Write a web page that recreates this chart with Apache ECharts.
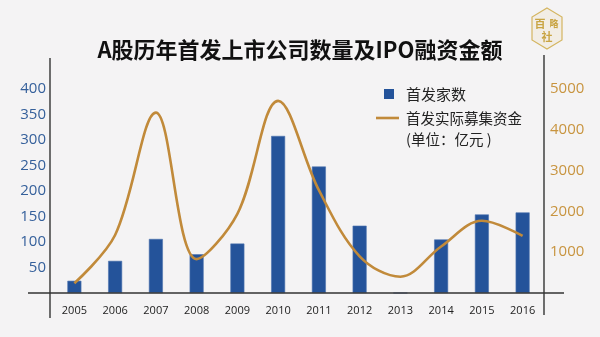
<!DOCTYPE html>
<html>
<head>
<meta charset="utf-8">
<script src="https://cdn.jsdelivr.net/npm/echarts@6/dist/echarts.min.js"></script>
<style>
  html, body { margin: 0; padding: 0; background: #f4f3f4; }
  #chart { width: 600px; height: 337px; }
</style>
</head>
<body>
<div id="chart"></div>
<script>
// 年份
const years = ['2005', '2006', '2007', '2008', '2009', '2010', '2011', '2012', '2013', '2014', '2015', '2016'];
// 首发家数
const ipoCount = [24, 63, 106, 76, 97, 308, 248, 132, 0, 105, 154, 158];
// 首发实际募集资金（亿元）
const ipoFunds = [240, 1420, 4420, 830, 1940, 4710, 2520, 900, 400, 1140, 1770, 1400];
// 坐标轴刻度
const leftTicks = [50, 100, 150, 200, 250, 300, 350, 400];
const rightTicks = [1000, 2000, 3000, 4000, 5000];

const title = 'A股历年首发上市公司数量及IPO融资金额';
const barName = '首发家数';
const lineName = '首发实际募集资金';
const unitText = '(单位：亿元 )';

const BLUE = '#24539a';
const GOLD = '#c18a3a';
const AXIS = '#333333';
const CJK = '"Noto Sans CJK SC", "Noto Sans", sans-serif';
const NUM = '"Open Sans", "Noto Sans", sans-serif';

const chart = echarts.init(document.getElementById('chart'), null, { renderer: 'canvas' });

const gridTop = 89, gridBottom = 44, gridLeft = 54, gridRight = 57;

chart.setOption({
  backgroundColor: '#f4f3f4',
  animation: false,
  title: {
    text: title,
    left: 'center',
    top: 34,
    textStyle: { fontFamily: CJK, fontSize: 22, fontWeight: 'bold', color: '#111' }
  },
  grid: { top: gridTop, bottom: gridBottom, left: gridLeft, right: gridRight },
  xAxis: {
    type: 'category',
    data: years,
    boundaryGap: true,
    axisLine: { show: false },
    axisTick: { show: false },
    axisLabel: { color: '#222', fontFamily: NUM, fontSize: 11, margin: 12, interval: 0 }
  },
  yAxis: [
    {
      type: 'value',
      min: 0,
      max: leftTicks[leftTicks.length - 1],
      interval: leftTicks[1] - leftTicks[0],
      splitLine: { show: false },
      axisLine: { show: false },
      axisTick: { show: false },
      axisLabel: {
        color: '#35609b', fontFamily: NUM, fontSize: 15, margin: 8,
        formatter: v => (leftTicks.indexOf(v) >= 0 ? String(v) : '')
      }
    },
    {
      type: 'value',
      min: 0,
      max: rightTicks[rightTicks.length - 1],
      interval: rightTicks[1] - rightTicks[0],
      splitLine: { show: false },
      axisLine: { show: false },
      axisTick: { show: false },
      axisLabel: {
        color: '#c8943f', fontFamily: NUM, fontSize: 15, margin: 7,
        formatter: v => (rightTicks.indexOf(v) >= 0 ? String(v) : '')
      }
    }
  ],
  series: [
    {
      name: barName,
      type: 'bar',
      yAxisIndex: 0,
      data: ipoCount,
      barWidth: 14,
      itemStyle: { color: BLUE, borderColor: '#4d74ae', borderWidth: 0.6 },
      z: 2
    },
    {
      name: lineName,
      type: 'line',
      yAxisIndex: 1,
      data: ipoFunds,
      smooth: 0.35,
      symbol: 'none',
      lineStyle: { color: GOLD, width: 2.6 },
      z: 3
    }
  ],
  graphic: [
    // 坐标轴框线
    { type: 'line', shape: { x1: 28, y1: 293, x2: 564, y2: 293 }, style: { stroke: AXIS, lineWidth: 1.4 }, z: 10 },
    { type: 'line', shape: { x1: 50, y1: 58, x2: 50, y2: 318 }, style: { stroke: AXIS, lineWidth: 1.4 }, z: 10 },
    { type: 'line', shape: { x1: 544, y1: 55, x2: 544, y2: 315 }, style: { stroke: AXIS, lineWidth: 1.4 }, z: 10 },
    // 图例
    { type: 'rect', shape: { x: 384, y: 89, width: 10, height: 10 }, style: { fill: BLUE }, z: 10 },
    { type: 'text', x: 406, y: 94, style: { text: barName, fill: '#222', font: '15px ' + CJK, textVerticalAlign: 'middle' }, z: 10 },
    { type: 'line', shape: { x1: 376, y1: 118, x2: 399, y2: 118 }, style: { stroke: GOLD, lineWidth: 2.6 }, z: 10 },
    { type: 'text', x: 406, y: 118, style: { text: lineName, fill: '#222', font: '14.5px ' + CJK, textVerticalAlign: 'middle' }, z: 10 },
    { type: 'text', x: 406, y: 139, style: { text: unitText, fill: '#222', font: '14.5px ' + CJK, textVerticalAlign: 'middle' }, z: 10 },
    // 角标
    {
      type: 'polygon',
      shape: { points: [[547, 8], [562, 17], [562, 40], [547, 49], [532, 40], [532, 17]] },
      style: { fill: 'rgba(230,200,120,0.12)', stroke: '#d4b560', lineWidth: 1.2 },
      z: 10
    },
    { type: 'text', x: 540, y: 24, style: { text: '百', fill: '#c9a443', font: 'bold 11px ' + CJK, textAlign: 'center', textVerticalAlign: 'middle' }, z: 11 },
    { type: 'text', x: 554, y: 24, style: { text: '略', fill: '#c9a443', font: 'bold 9px ' + CJK, textAlign: 'center', textVerticalAlign: 'middle' }, z: 11 },
    { type: 'text', x: 547, y: 37, style: { text: '社', fill: '#c9a443', font: 'bold 11px ' + CJK, textAlign: 'center', textVerticalAlign: 'middle' }, z: 11 }
  ]
});
</script>
</body>
</html>
